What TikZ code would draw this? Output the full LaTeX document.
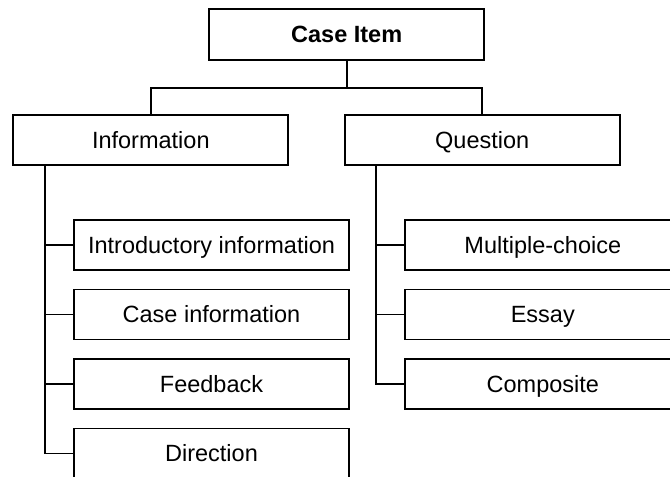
\documentclass[tikz,border=0pt]{standalone}
\usepackage{fontspec}
\setmainfont{Liberation Sans}
\usepackage{tikz}
\usetikzlibrary{calc,positioning}

\begin{document}
\begin{tikzpicture}[x=1pt,y=-1pt,
  box/.style={draw=black,line width=1.8pt,minimum width=275pt,minimum height=50pt,inner sep=0pt,
    text height=20pt,text depth=3.2pt,font=\fontsize{23.5}{28}\selectfont},
  link/.style={draw=black,line width=1.8pt}]
  \useasboundingbox (0,0) rectangle (670,477);
  % top level
  \node[box,minimum height=51pt,font=\fontsize{23.5}{28}\selectfont\bfseries] (case) at (346.7,34.5) {Case Item};
  \node[box] (info) at (150.8,140) {Information};
  \node[box] (quest) at (482.2,140) {Question};
  \coordinate (bus) at ($(case.south)+(0,27)$);
  \draw[link] (case.south) -- (bus);
  \draw[link] (info.north) |- (bus) -| (quest.north);
  % information parts
  \node[box] (intro) at (211.5,245) {Introductory information};
  \node[box] (caseinfo) at (211.5,314.5) {Case information};
  \node[box] (feedback) at (211.5,384) {Feedback};
  \node[box] (direction) at (211.5,453.5) {Direction};
  % question types
  \node[box] (multi) at (542.8,245) {Multiple-choice};
  \node[box] (essay) at (542.8,314.5) {Essay};
  \node[box] (composite) at (542.8,384) {Composite};
  % spines
  \coordinate (infospine) at ($(info.south west)+(32.4,0)$);
  \coordinate (questspine) at ($(quest.south west)+(32.5,0)$);
  \foreach \part in {intro,caseinfo,feedback,direction}
    \draw[link] (infospine) |- (\part.west);
  \foreach \part in {multi,essay,composite}
    \draw[link] (questspine) |- (\part.west);
\end{tikzpicture}
\end{document}
